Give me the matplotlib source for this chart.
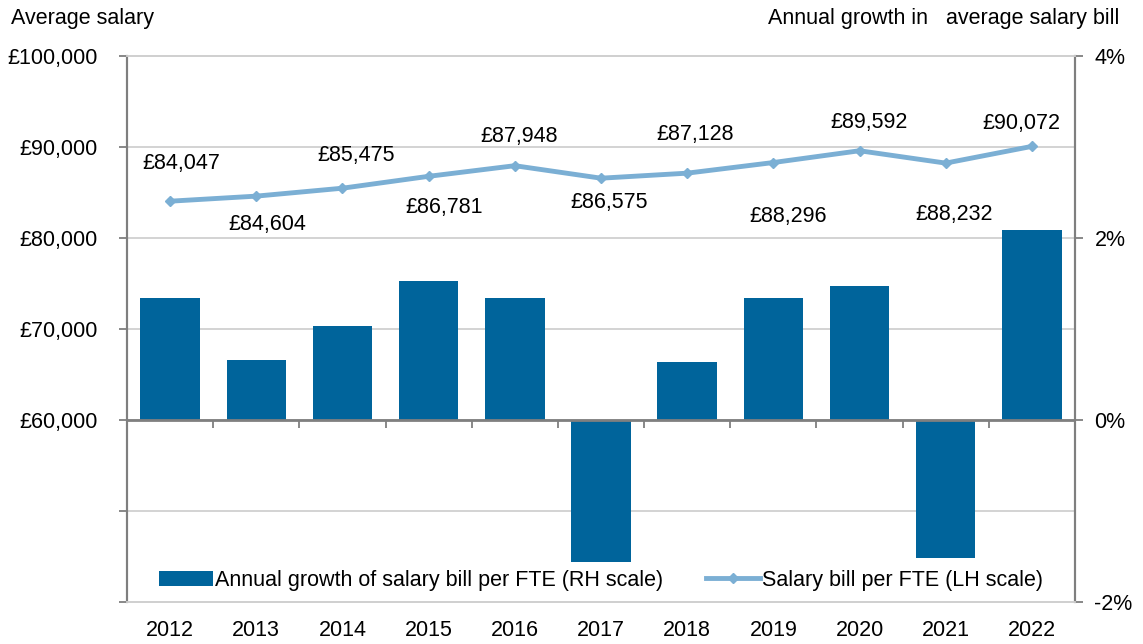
import numpy as np
import matplotlib
matplotlib.use('Agg')
import matplotlib.pyplot as plt
from matplotlib.ticker import FuncFormatter, MultipleLocator

plt.rcParams['font.family'] = ['Liberation Sans', 'DejaVu Sans']
plt.rcParams['font.size'] = 15.5

years = ['2012', '2013', '2014', '2015', '2016', '2017', '2018', '2019', '2020', '2021', '2022']
salary = [84047, 84604, 85475, 86781, 87948, 86575, 87128, 88296, 89592, 88232, 90072]
growth = [1.34, 0.66, 1.03, 1.53, 1.34, -1.56, 0.64, 1.34, 1.47, -1.52, 2.09]

# label offsets (pixels), placed by hand like the original
label_dx = [11, 11, 14, 15, 4, 8, 8, 15, 10, 8, -11]
label_dy = [38, -28, 33, -31, 29, -24, 39, -54, 28, -51, 23]

bar_col = '#00649b'
line_col = '#7bafd4'
grid_col = '#d0d0d0'
spine_col = '#7f7f7f'

x = np.arange(len(years))

fig = plt.figure(figsize=(11.43, 6.44), dpi=100)
ax1 = fig.add_axes([0.1111, 0.0652, 0.8294, 0.8478])
ax2 = ax1.twinx()

# left axis: salary line
ax1.set_ylim(40000, 100000)
ax1.yaxis.set_major_locator(MultipleLocator(10000))
ax1.yaxis.set_major_formatter(FuncFormatter(lambda v, p: f'£{v:,.0f}' if v >= 60000 else ''))
ax1.grid(axis='y', color=grid_col, lw=1.3)
ax1.set_axisbelow(True)
ax1.plot(x, salary, color=line_col, lw=3.5, marker='D', ms=5, label='Salary bill per FTE (LH scale)')

for i, v in enumerate(salary):
    ax1.annotate(f'£{v:,}', (x[i], v), xytext=(label_dx[i] * 0.72, label_dy[i] * 0.72),
                 textcoords='offset points', ha='center', va='center')

# right axis: growth bars
ax2.set_ylim(-2, 4)
ax2.yaxis.set_major_locator(MultipleLocator(2))
ax2.yaxis.set_major_formatter(FuncFormatter(lambda v, p: f'{v:.0f}%'))
ax2.bar(x, growth, width=0.69, color=bar_col, label='Annual growth of salary bill per FTE (RH scale)')
ax2.axhline(0, color=spine_col, lw=2, zorder=3)

ax1.set_xlim(-0.5, len(years) - 0.5)
ax1.set_xticks(x)
ax1.set_xticklabels(years)
ax1.tick_params(axis='x', length=0, pad=13)
ax1.tick_params(axis='y', length=6, color=spine_col, width=1.3, pad=15)
ax2.tick_params(axis='y', length=6, color=spine_col, width=1.3, pad=8)

for a in (ax1, ax2):
    a.spines['top'].set_color(grid_col)
    a.spines['top'].set_linewidth(1.3)
    a.spines['bottom'].set_color(grid_col)
    a.spines['bottom'].set_linewidth(1.3)
    a.spines['left'].set_color(spine_col)
    a.spines['left'].set_linewidth(1.5)
    a.spines['right'].set_color(spine_col)
    a.spines['right'].set_linewidth(1.5)

# category separators on the zero line
zero = ax1.secondary_xaxis(1 / 3)
zero.set_xticks(np.arange(-0.5, len(years) - 0.4, 1.0))
zero.set_xticklabels([])
zero.tick_params(axis='x', direction='out', length=6, color=spine_col, width=1.3)
zero.spines['bottom'].set_visible(False)

h1, l1 = ax2.get_legend_handles_labels()
h2, l2 = ax1.get_legend_handles_labels()
ax2.legend(h1 + h2, l1 + l2, loc='lower center', bbox_to_anchor=(0.5, -0.015), ncol=2,
           frameon=False, handlelength=2.5, handletextpad=0.1, columnspacing=2.0,
           numpoints=1)

fig.text(0.01, 0.972, 'Average salary', ha='left', va='center')
fig.text(0.979, 0.972, 'Annual growth in   average salary bill', ha='right', va='center')

plt.savefig('out.png', dpi=100)
